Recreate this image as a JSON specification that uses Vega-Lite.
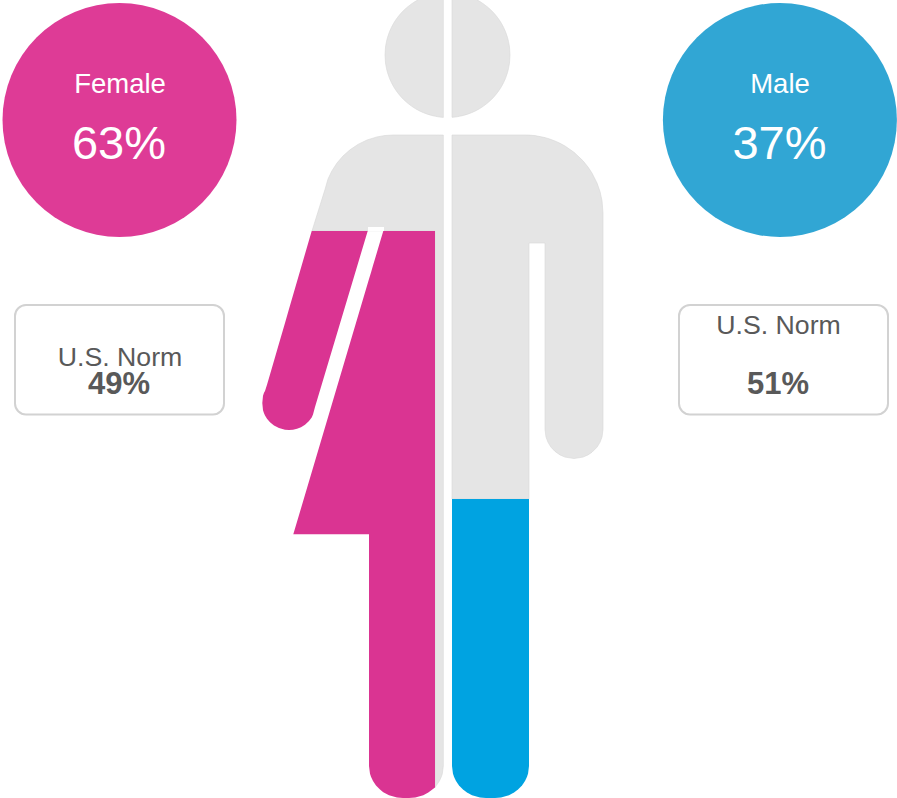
{"$schema":"https://vega.github.io/schema/vega-lite/v6.json","width":897,"height":798,"padding":0,"autosize":{"type":"fit","contains":"padding"},"background":"white","config":{"view":{"stroke":null}},
"datasets":{
"figure":[
{"p":"headL","c":"gray","x":385,"y":55,"y2":55},{"p":"headL","c":"gray","x":385.5,"y":47.1,"y2":62.9},{"p":"headL","c":"gray","x":386.5,"y":41.4,"y2":68.6},{"p":"headL","c":"gray","x":387.5,"y":37.5,"y2":72.5},{"p":"headL","c":"gray","x":389.5,"y":31.7,"y2":78.3},{"p":"headL","c":"gray","x":391.5,"y":27.25,"y2":82.75},{"p":"headL","c":"gray","x":393.5,"y":23.5,"y2":86.5},{"p":"headL","c":"gray","x":395.5,"y":20.3,"y2":89.7},{"p":"headL","c":"gray","x":397.5,"y":17.5,"y2":92.5},{"p":"headL","c":"gray","x":400.5,"y":13.8,"y2":96.2},{"p":"headL","c":"gray","x":403.5,"y":10.6,"y2":99.4},{"p":"headL","c":"gray","x":407.5,"y":7,"y2":103},{"p":"headL","c":"gray","x":411.5,"y":3.9,"y2":106.1},{"p":"headL","c":"gray","x":415.5,"y":1.3,"y2":108.7},{"p":"headL","c":"gray","x":419.5,"y":-1,"y2":110.9},{"p":"headL","c":"gray","x":423.5,"y":-3,"y2":112.7},{"p":"headL","c":"gray","x":427.5,"y":-3,"y2":114.2},{"p":"headL","c":"gray","x":431.5,"y":-3,"y2":115.4},{"p":"headL","c":"gray","x":435.5,"y":-3,"y2":116.3},{"p":"headL","c":"gray","x":439.5,"y":-3,"y2":117},{"p":"headL","c":"gray","x":443.3,"y":-3,"y2":117.4},
{"p":"headR","c":"gray","x":452,"y":-3,"y2":117.3},{"p":"headR","c":"gray","x":455.5,"y":-3,"y2":117},{"p":"headR","c":"gray","x":459.5,"y":-3,"y2":116.3},{"p":"headR","c":"gray","x":463.5,"y":-3,"y2":115.4},{"p":"headR","c":"gray","x":467.5,"y":-3,"y2":114.2},{"p":"headR","c":"gray","x":471.5,"y":-3,"y2":112.7},{"p":"headR","c":"gray","x":475.5,"y":-1,"y2":110.9},{"p":"headR","c":"gray","x":479.5,"y":1.3,"y2":108.7},{"p":"headR","c":"gray","x":483.5,"y":3.9,"y2":106.1},{"p":"headR","c":"gray","x":487.5,"y":7,"y2":103},{"p":"headR","c":"gray","x":491.5,"y":10.6,"y2":99.4},{"p":"headR","c":"gray","x":494.5,"y":13.8,"y2":96.2},{"p":"headR","c":"gray","x":497.5,"y":17.5,"y2":92.5},{"p":"headR","c":"gray","x":499.5,"y":20.3,"y2":89.7},{"p":"headR","c":"gray","x":501.5,"y":23.5,"y2":86.5},{"p":"headR","c":"gray","x":503.5,"y":27.25,"y2":82.75},{"p":"headR","c":"gray","x":505.5,"y":31.7,"y2":78.3},{"p":"headR","c":"gray","x":507.5,"y":37.5,"y2":72.5},{"p":"headR","c":"gray","x":508.5,"y":41.4,"y2":68.6},{"p":"headR","c":"gray","x":509.5,"y":47.1,"y2":62.9},{"p":"headR","c":"gray","x":510,"y":55,"y2":55},
{"p":"bodyL","c":"gray","x":312,"y":231,"y2":231},{"p":"bodyL","c":"gray","x":325,"y":189.5,"y2":231},{"p":"bodyL","c":"gray","x":328,"y":179,"y2":231},{"p":"bodyL","c":"gray","x":332,"y":170.7,"y2":231},{"p":"bodyL","c":"gray","x":337,"y":163,"y2":231},{"p":"bodyL","c":"gray","x":343,"y":156,"y2":231},{"p":"bodyL","c":"gray","x":350,"y":149.8,"y2":231},{"p":"bodyL","c":"gray","x":358,"y":144.4,"y2":231},{"p":"bodyL","c":"gray","x":367,"y":140,"y2":231},{"p":"bodyL","c":"gray","x":377,"y":136.9,"y2":231},{"p":"bodyL","c":"gray","x":385,"y":135.5,"y2":231},{"p":"bodyL","c":"gray","x":393,"y":135,"y2":231},{"p":"bodyL","c":"gray","x":435,"y":135,"y2":231},{"p":"bodyL","c":"gray","x":435,"y":135,"y2":787.5},{"p":"bodyL","c":"gray","x":436.3,"y":135,"y2":785.5},{"p":"bodyL","c":"gray","x":439.3,"y":135,"y2":781.1},{"p":"bodyL","c":"gray","x":441.3,"y":135,"y2":776.8},{"p":"bodyL","c":"gray","x":442.3,"y":135,"y2":773.7},{"p":"bodyL","c":"gray","x":443.3,"y":135,"y2":766},
{"p":"bodyR","c":"gray","x":452,"y":135,"y2":499},{"p":"bodyR","c":"gray","x":525,"y":135,"y2":499},{"p":"bodyR","c":"gray","x":529,"y":135.1,"y2":499},{"p":"bodyR","c":"gray","x":529,"y":135.1,"y2":243},{"p":"bodyR","c":"gray","x":535,"y":135.6,"y2":243},{"p":"bodyR","c":"gray","x":545,"y":137.6,"y2":243},{"p":"bodyR","c":"gray","x":545,"y":137.6,"y2":429.5},{"p":"bodyR","c":"gray","x":546,"y":137.9,"y2":437},{"p":"bodyR","c":"gray","x":548,"y":138.5,"y2":442.3},{"p":"bodyR","c":"gray","x":551,"y":139.5,"y2":447.2},{"p":"bodyR","c":"gray","x":555,"y":141,"y2":451.4},{"p":"bodyR","c":"gray","x":560,"y":143.3,"y2":454.9},{"p":"bodyR","c":"gray","x":565,"y":146,"y2":457.1},{"p":"bodyR","c":"gray","x":574,"y":152.3,"y2":458.5},{"p":"bodyR","c":"gray","x":583,"y":160.8,"y2":457.1},{"p":"bodyR","c":"gray","x":588,"y":167,"y2":454.9},{"p":"bodyR","c":"gray","x":592,"y":173.1,"y2":452.2},{"p":"bodyR","c":"gray","x":597,"y":183,"y2":447.2},{"p":"bodyR","c":"gray","x":600,"y":191.6,"y2":442.3},{"p":"bodyR","c":"gray","x":602,"y":200.6,"y2":437},{"p":"bodyR","c":"gray","x":603,"y":213,"y2":429.5}
],
"fills":[
{"p":"notch","c":"white","x":368,"y":227,"y2":231.5},{"p":"notch","c":"white","x":384,"y":227,"y2":231.5},
{"p":"skirt","c":"pink","x":293.3,"y":534.3,"y2":534.3},{"p":"skirt","c":"pink","x":369,"y":279.1,"y2":534.3},{"p":"skirt","c":"pink","x":369,"y":279.1,"y2":766},{"p":"skirt","c":"pink","x":370,"y":275.7,"y2":773.7},{"p":"skirt","c":"pink","x":371,"y":272.4,"y2":776.8},{"p":"skirt","c":"pink","x":373,"y":265.6,"y2":781.1},{"p":"skirt","c":"pink","x":376,"y":255.5,"y2":785.5},{"p":"skirt","c":"pink","x":380,"y":242,"y2":789.6},{"p":"skirt","c":"pink","x":383.3,"y":231,"y2":792.2},{"p":"skirt","c":"pink","x":389,"y":231,"y2":795.2},{"p":"skirt","c":"pink","x":397,"y":231,"y2":797.5},{"p":"skirt","c":"pink","x":403,"y":231,"y2":798},{"p":"skirt","c":"pink","x":409,"y":231,"y2":798},{"p":"skirt","c":"pink","x":415.3,"y":231,"y2":797.5},{"p":"skirt","c":"pink","x":423.3,"y":231,"y2":795.2},{"p":"skirt","c":"pink","x":428.3,"y":231,"y2":792.5},{"p":"skirt","c":"pink","x":432.3,"y":231,"y2":789.6},{"p":"skirt","c":"pink","x":435,"y":231,"y2":787.5},
{"p":"arm","c":"pink","x":262.3,"y":403,"y2":403},{"p":"arm","c":"pink","x":263,"y":395.7,"y2":410.3},{"p":"arm","c":"pink","x":264,"y":392.8,"y2":413.2},{"p":"arm","c":"pink","x":265,"y":391,"y2":415.4},{"p":"arm","c":"pink","x":267,"y":384.8,"y2":418.7},{"p":"arm","c":"pink","x":270,"y":374.5,"y2":422.2},{"p":"arm","c":"pink","x":274,"y":360.7,"y2":425.4},{"p":"arm","c":"pink","x":279,"y":343.5,"y2":428},{"p":"arm","c":"pink","x":285,"y":322.9,"y2":429.7},{"p":"arm","c":"pink","x":289,"y":309.1,"y2":430},{"p":"arm","c":"pink","x":293,"y":295.3,"y2":429.7},{"p":"arm","c":"pink","x":297,"y":281.6,"y2":428.8},{"p":"arm","c":"pink","x":301,"y":267.8,"y2":427.2},{"p":"arm","c":"pink","x":305,"y":254,"y2":424.7},{"p":"arm","c":"pink","x":309,"y":240.3,"y2":421.1},{"p":"arm","c":"pink","x":311.7,"y":231,"y2":417.6},{"p":"arm","c":"pink","x":313,"y":231,"y2":414.5},{"p":"arm","c":"pink","x":315,"y":231,"y2":407},{"p":"arm","c":"pink","x":367.7,"y":231,"y2":231},
{"p":"legR","c":"blue","x":452,"y":499,"y2":766},{"p":"legR","c":"blue","x":453,"y":499,"y2":773.7},{"p":"legR","c":"blue","x":454,"y":499,"y2":776.8},{"p":"legR","c":"blue","x":456,"y":499,"y2":781.1},{"p":"legR","c":"blue","x":459,"y":499,"y2":785.5},{"p":"legR","c":"blue","x":463,"y":499,"y2":789.6},{"p":"legR","c":"blue","x":467,"y":499,"y2":792.5},{"p":"legR","c":"blue","x":472,"y":499,"y2":795.2},{"p":"legR","c":"blue","x":480,"y":499,"y2":797.5},{"p":"legR","c":"blue","x":486,"y":499,"y2":798},{"p":"legR","c":"blue","x":495,"y":499,"y2":798},{"p":"legR","c":"blue","x":501,"y":499,"y2":797.5},{"p":"legR","c":"blue","x":509,"y":499,"y2":795.2},{"p":"legR","c":"blue","x":514,"y":499,"y2":792.5},{"p":"legR","c":"blue","x":518,"y":499,"y2":789.6},{"p":"legR","c":"blue","x":522,"y":499,"y2":785.5},{"p":"legR","c":"blue","x":525,"y":499,"y2":781.1},{"p":"legR","c":"blue","x":527,"y":499,"y2":776.8},{"p":"legR","c":"blue","x":528,"y":499,"y2":773.7},{"p":"legR","c":"blue","x":529,"y":499,"y2":766}
],
"circles":[{"c":"circleF","x":119.5,"y":120},{"c":"circleM","x":779.9,"y":120}],
"boxes":[{"name":"Female","x":15,"x2":224,"y":305,"y2":414.5},{"name":"Male","x":679,"x2":888,"y":305,"y2":414.5}],
"labels":[
{"kind":"name","t":"Female","x":120,"y":85},{"kind":"name","t":"Male","x":780,"y":85},
{"kind":"pct","t":"63%","x":119,"y":145},{"kind":"pct","t":"37%","x":779.5,"y":145},
{"kind":"norm","t":"U.S. Norm","x":120,"y":357.5},{"kind":"norm","t":"U.S. Norm","x":778.5,"y":325.5},
{"kind":"val","t":"49%","x":119,"y":384.5},{"kind":"val","t":"51%","x":778,"y":384.5}
]},
"encoding":{
"x":{"field":"x","type":"quantitative","scale":{"domain":[0,897],"nice":false,"zero":false},"axis":null},
"y":{"field":"y","type":"quantitative","scale":{"domain":[798,0],"nice":false,"zero":false},"axis":null},
"color":{"field":"c","type":"nominal","legend":null,"scale":{"domain":["gray","white","pink","blue","circleF","circleM"],"range":["#e5e5e5","#ffffff","#da3492","#00a3e1","#de3b96","#31a6d4"]}}
},
"layer":[
{"data":{"name":"circles"},"mark":{"type":"point","filled":true,"opacity":1,"size":54756,"shape":"circle"}},
{"data":{"name":"figure"},"mark":{"type":"area","orient":"vertical","stroke":"#d6d6d6","strokeWidth":0.6,"clip":true},"encoding":{"y2":{"field":"y2"},"detail":{"field":"p"}}},
{"data":{"name":"fills"},"mark":{"type":"area","orient":"vertical"},"encoding":{"y2":{"field":"y2"},"detail":{"field":"p"}}},
{"data":{"name":"boxes"},"mark":{"type":"rect","fill":"white","stroke":"#d2d2d2","strokeWidth":2,"cornerRadius":11},"encoding":{"x2":{"field":"x2"},"y2":{"field":"y2"},"color":{"value":null}}},
{"data":{"name":"labels"},"transform":[{"filter":"datum.kind==='name'"}],"mark":{"type":"text","font":"Liberation Sans","fontSize":27.5,"align":"center","baseline":"middle"},"encoding":{"text":{"field":"t"},"color":{"value":"white"}}},
{"data":{"name":"labels"},"transform":[{"filter":"datum.kind==='pct'"}],"mark":{"type":"text","font":"Liberation Sans","fontSize":47,"align":"center","baseline":"middle"},"encoding":{"text":{"field":"t"},"color":{"value":"white"}}},
{"data":{"name":"labels"},"transform":[{"filter":"datum.kind==='norm'"}],"mark":{"type":"text","font":"Liberation Sans","fontSize":26.7,"align":"center","baseline":"middle"},"encoding":{"text":{"field":"t"},"color":{"value":"#595959"}}},
{"data":{"name":"labels"},"transform":[{"filter":"datum.kind==='val'"}],"mark":{"type":"text","font":"Liberation Sans","fontSize":31,"fontWeight":"bold","align":"center","baseline":"middle"},"encoding":{"text":{"field":"t"},"color":{"value":"#595959"}}}
]}
